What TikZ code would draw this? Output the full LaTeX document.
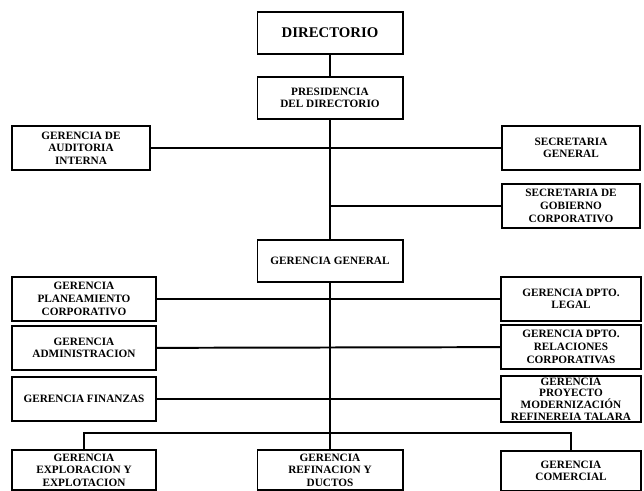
\documentclass[tikz,border=0pt]{standalone}
\usepackage{fontspec}
\setmainfont{Liberation Serif}
\usepackage{tikz}
\usetikzlibrary{positioning}

\begin{document}
\begin{tikzpicture}[x=0.025cm,y=-0.025cm,
    unit/.style={draw=black,line width=1.4pt,fill=white,align=center,inner sep=0pt,
      font=\bfseries\fontsize{8}{9}\selectfont},
    sidebox/.style={unit,minimum width=3.5cm,minimum height=1.1cm},
    midbox/.style={unit,minimum width=3.625cm,minimum height=1.05cm},
    link/.style={line width=1.4pt}]
        \useasboundingbox (0,0) rectangle (644,491);
        \node[midbox,font=\bfseries\fontsize{10.5}{12}\selectfont] (dir) at (330,33) {DIRECTORIO};
        \node[midbox] (pres) at (330,98) {PRESIDENCIA\\DEL DIRECTORIO};
        \node[sidebox,minimum width=3.45cm] (aud) at (81,148) {GERENCIA DE\\AUDITORIA\\INTERNA};
        \node[sidebox,minimum width=3.45cm] (secgen) at (571,148) {SECRETARIA\\GENERAL};
        \node[sidebox,minimum width=3.45cm] (secgob) at (571,206) {SECRETARIA DE\\GOBIERNO\\CORPORATIVO};
        \node[midbox] (gg) at (330,261) {GERENCIA GENERAL};
        \node[sidebox,minimum width=3.575cm] (plan) at (84,299) {GERENCIA\\PLANEAMIENTO\\CORPORATIVO};
        \node[sidebox] (legal) at (571,299) {GERENCIA DPTO.\\LEGAL};
        \node[sidebox,minimum width=3.575cm] (adm) at (84,348) {GERENCIA\\ADMINISTRACION};
        \node[sidebox] (rel) at (571,347) {GERENCIA DPTO.\\RELACIONES\\CORPORATIVAS};
        \node[sidebox,minimum width=3.575cm] (fin) at (84,399) {GERENCIA FINANZAS};
        \node[sidebox,minimum height=1.15cm,font=\bfseries\fontsize{8}{8.4}\selectfont] (proy) at (571,399)
          {GERENCIA\\PROYECTO\\MODERNIZACIÓN\\REFINEREIA TALARA};
        \node[sidebox,minimum width=3.575cm,minimum height=1cm] (expl) at (84,470) {GERENCIA\\EXPLORACION Y\\EXPLOTACION};
        \node[midbox,minimum height=1cm] (ref) at (330,470) {GERENCIA\\REFINACION Y\\DUCTOS};
        \node[sidebox,minimum height=1cm] (com) at (571,471) {GERENCIA\\COMERCIAL};
        \coordinate (bus) at (330,433);
        \coordinate (gobj) at (330,206);
        \draw[link] (dir) -- (pres);
        \draw[link] (pres) -- (gg);
        \draw[link] (aud) -- (secgen);
        \draw[link] (gobj) -- (secgob);
        \draw[link] (gg) -- (ref);
        \draw[link] (plan) -- (legal);
        \draw[link] (adm) -- (rel);
        \draw[link] (fin) -- (proy);
        \draw[link] (expl.north) -- (expl.north |- bus) -- (com.north |- bus) -- (com.north);
\end{tikzpicture}
\end{document}
